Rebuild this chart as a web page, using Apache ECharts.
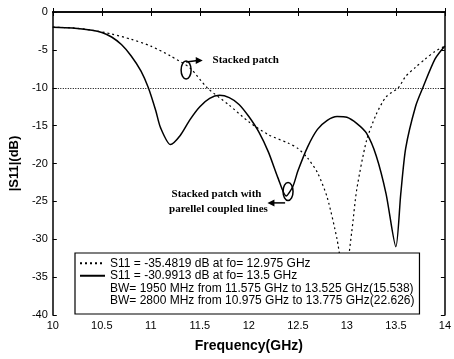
<!DOCTYPE html>
<html>
<head>
<meta charset="utf-8">
<script src="https://cdn.jsdelivr.net/npm/echarts@6/dist/echarts.min.js"></script>
<style>
  html, body { margin: 0; padding: 0; background: #fff; }
  #main { width: 454px; height: 359px; }
</style>
</head>
<body>
<div id="main"></div>
<script>
// stacked patch (dotted)
var freqA = [10.0, 10.2, 10.4, 10.6, 10.8, 11.0, 11.2, 11.4, 11.575, 11.8, 12.0, 12.2, 12.4, 12.5, 12.6, 12.7, 12.8, 12.9, 12.975, 13.05, 13.1, 13.2, 13.3, 13.4, 13.525, 13.6, 13.7, 13.8, 13.9, 14.0];
var s11A  = [-2.0, -2.1, -2.4, -2.9, -3.6, -4.5, -5.8, -7.4, -10.0, -12.3, -14.5, -16.2, -17.3, -18.0, -19.3, -21.2, -24.5, -30.0, -35.48, -29.0, -23.5, -17.0, -13.5, -11.2, -10.0, -8.5, -7.3, -6.2, -5.2, -4.5];
// stacked patch with parallel coupled lines (solid)
var freqB = [10.0, 10.2, 10.4, 10.5, 10.6, 10.7, 10.8, 10.9, 10.975, 11.05, 11.1, 11.2, 11.3, 11.4, 11.5, 11.6, 11.7, 11.8, 11.9, 12.0, 12.1, 12.2, 12.3, 12.38, 12.45, 12.5, 12.6, 12.7, 12.8, 12.9, 13.0, 13.1, 13.2, 13.3, 13.4, 13.5, 13.55, 13.6, 13.7, 13.775, 13.9, 14.0];
var s11B  = [-2.0, -2.1, -2.4, -2.7, -3.3, -4.3, -5.8, -7.8, -10.0, -13.0, -15.3, -17.5, -16.3, -14.2, -12.5, -11.4, -11.0, -11.3, -12.2, -13.8, -15.8, -18.5, -22.0, -24.3, -23.0, -21.0, -17.8, -15.5, -14.3, -13.8, -13.9, -14.7, -16.0, -19.0, -24.0, -30.99, -24.0, -18.0, -12.5, -10.0, -6.2, -4.5];
var threshold = -10;
var legendNames = [
  'S11 = -35.4819 dB at fo= 12.975 GHz',
  'S11 = -30.9913 dB at fo= 13.5 GHz',
  'BW= 1950 MHz from 11.575 GHz to 13.525 GHz(15.538)',
  'BW= 2800 MHz from 10.975 GHz to 13.775 GHz(22.626)'
];

function pairs(xs, ys) {
  return xs.map(function (x, i) { return [x, ys[i]]; });
}

var myChart = echarts.init(document.getElementById('main'));
var fontA = '"Liberation Sans", Arial, sans-serif';
var tick = { inside: true, length: 4, lineStyle: { color: '#000' } };

var option = {
  animation: false,
  backgroundColor: '#fff',
  grid: { left: 50, right: 9, top: 12, bottom: 44 },
  xAxis: [
    {
      type: 'value', min: 10, max: 14, interval: 0.5,
      name: 'Frequency(GHz)', nameLocation: 'middle', nameGap: 24,
      nameTextStyle: { fontFamily: fontA, fontWeight: 'bold', fontSize: 14, color: '#000' },
      axisLine: { lineStyle: { color: '#000', width: 1.5 } },
      axisTick: tick,
      axisLabel: { fontFamily: fontA, fontSize: 11, color: '#000', margin: 5 },
      splitLine: { show: false }
    },
    {
      type: 'value', min: 10, max: 14, interval: 0.5, position: 'top',
      axisLine: { lineStyle: { color: '#000', width: 1.5 } },
      axisTick: tick, axisLabel: { show: false }, splitLine: { show: false }
    }
  ],
  yAxis: [
    {
      type: 'value', min: -40, max: 0, interval: 5,
      name: '|S11|(dB)', nameLocation: 'middle', nameGap: 23, nameRotate: 90,
      nameTextStyle: { fontFamily: fontA, fontWeight: 'bold', fontSize: 13, color: '#000' },
      axisLine: { lineStyle: { color: '#000', width: 1.5 } },
      axisTick: tick,
      axisLabel: { fontFamily: fontA, fontSize: 11, color: '#000', margin: 5 },
      splitLine: { show: false }
    },
    {
      type: 'value', min: -40, max: 0, interval: 5, position: 'right',
      axisLine: { lineStyle: { color: '#000', width: 1.5 } },
      axisTick: tick, axisLabel: { show: false }, splitLine: { show: false }
    }
  ],
  legend: {
    orient: 'vertical', left: 75, top: 253,
    padding: [4, 5, 7, 4], itemGap: 0, itemWidth: 25, itemHeight: 8,
    backgroundColor: '#fff', borderColor: '#000', borderWidth: 1.2, borderRadius: 0,
    itemStyle: { opacity: 0 },
    textStyle: { fontFamily: fontA, fontSize: 12, color: '#000', lineHeight: 12.5 },
    data: legendNames
  },
  series: [
    {
      name: legendNames[0], type: 'line', data: pairs(freqA, s11A),
      symbol: 'none', smooth: 0.25,
      lineStyle: { color: '#000', width: 1.2, type: [2, 3] },
      itemStyle: { color: '#000' },
      markLine: {
        silent: true, symbol: 'none', label: { show: false },
        lineStyle: { color: '#000', width: 1, type: [1, 1.5] },
        data: [{ yAxis: threshold }]
      }
    },
    {
      name: legendNames[1], type: 'line', data: pairs(freqB, s11B),
      symbol: 'none', smooth: 0.25,
      lineStyle: { color: '#000', width: 1.5 },
      itemStyle: { color: '#000' }
    },
    {
      name: legendNames[2], type: 'line', data: [], symbol: 'none',
      lineStyle: { opacity: 0 }, itemStyle: { opacity: 0 }
    },
    {
      name: legendNames[3], type: 'line', data: [], symbol: 'none',
      lineStyle: { opacity: 0 }, itemStyle: { opacity: 0 }
    }
  ]
};

myChart.setOption(option);

// annotations placed in data coordinates
function px(x, y) { return myChart.convertToPixel({ xAxisIndex: 0, yAxisIndex: 0 }, [x, y]); }
var fontB = '"Liberation Serif", "Times New Roman", serif';
var e1 = px(11.36, -7.65), a1s = px(11.36, -6.6), a1e = px(11.53, -6.4), t1 = px(11.63, -6.4);
var e2 = px(12.40, -23.7), a2s = px(12.37, -25.2), a2e = px(12.19, -25.2), t2 = px(11.67, -24.1), t3 = px(11.69, -26.0);

function arrow(from, to) {
  var dir = to[0] > from[0] ? 1 : -1;
  return [
    { type: 'polyline', shape: { points: [from, [to[0] - dir * 5, to[1]]] }, style: { stroke: '#000', lineWidth: 1.5, fill: null } },
    { type: 'polygon', shape: { points: [[to[0], to[1]], [to[0] - dir * 7, to[1] - 3.5], [to[0] - dir * 7, to[1] + 3.5]] }, style: { fill: '#000' } }
  ];
}

var gfx = [
  { type: 'ellipse', shape: { cx: e1[0], cy: e1[1], rx: 5, ry: 9 }, style: { stroke: '#000', lineWidth: 1.5, fill: null } },
  { type: 'text', x: t1[0], y: t1[1], style: { text: 'Stacked patch', font: 'bold 11px ' + fontB, fill: '#000', textVerticalAlign: 'middle' } },
  { type: 'ellipse', shape: { cx: e2[0], cy: e2[1], rx: 5, ry: 9 }, style: { stroke: '#000', lineWidth: 1.5, fill: null } },
  { type: 'text', x: t2[0], y: t2[1], style: { text: 'Stacked patch with', font: 'bold 11px ' + fontB, fill: '#000', textAlign: 'center', textVerticalAlign: 'middle' } },
  { type: 'text', x: t3[0], y: t3[1], style: { text: 'parellel coupled lines', font: 'bold 11px ' + fontB, fill: '#000', textAlign: 'center', textVerticalAlign: 'middle' } }
].concat(arrow(a1s, a1e)).concat(arrow(a2s, a2e));

myChart.setOption({ graphic: gfx });
</script>
</body>
</html>
